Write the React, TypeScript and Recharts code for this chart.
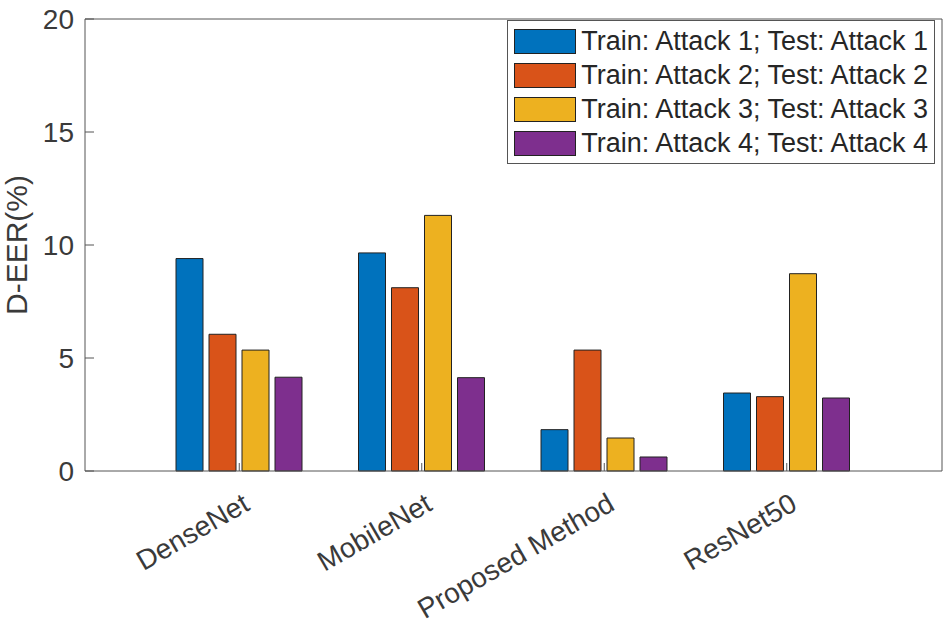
import { BarChart, Bar, XAxis, YAxis, Legend } from 'recharts'

const categories = ['DenseNet', 'MobileNet', 'Proposed Method', 'ResNet50']
const seriesNames = [
  'Train: Attack 1; Test: Attack 1',
  'Train: Attack 2; Test: Attack 2',
  'Train: Attack 3; Test: Attack 3',
  'Train: Attack 4; Test: Attack 4',
]
const attack1 = [9.4, 9.65, 1.83, 3.45]
const attack2 = [6.05, 8.11, 5.35, 3.29]
const attack3 = [5.35, 11.31, 1.46, 8.73]
const attack4 = [4.15, 4.13, 0.62, 3.23]
const yTicks = [0, 5, 10, 15, 20]

const COLORS = ['#0072BD', '#D95319', '#EDB120', '#7E2F8E']
const FONT = '"Liberation Sans", Arial, Helvetica, sans-serif'
const TEXT = '#3a3a3a'
const AXIS = '#555555'

const data = categories.map((name, i) => ({
  name,
  a1: attack1[i],
  a2: attack2[i],
  a3: attack3[i],
  a4: attack4[i],
}))
const keys = ['a1', 'a2', 'a3', 'a4']

function RotatedTick(props: any) {
  const { x, y, payload } = props
  return (
    <g transform={`translate(${x + 12},${y})`}>
      <text
        textAnchor="end"
        transform="rotate(-30)"
        fontSize={28}
        fontFamily={FONT}
        fill={TEXT}
      >
        {payload.value}
      </text>
    </g>
  )
}

function YLabel(props: any) {
  const { viewBox } = props
  const x = viewBox.x + 27
  const y = viewBox.y + viewBox.height / 2
  return (
    <text
      x={x}
      y={y}
      transform={`rotate(-90 ${x} ${y})`}
      textAnchor="middle"
      fontSize={30}
      fontFamily={FONT}
      fill={TEXT}
    >
      D-EER(%)
    </text>
  )
}

function LegendBox(props: any) {
  const { payload } = props
  return (
    <div
      style={{
        border: '1px solid #555',
        background: '#fff',
        padding: '3px 6px',
        fontFamily: FONT,
        fontSize: 27,
        color: '#262626',
        boxSizing: 'border-box',
      }}
    >
      {payload.map((entry: any, i: number) => (
        <div key={i} style={{ display: 'flex', alignItems: 'center', height: 34 }}>
          <span
            style={{
              display: 'inline-block',
              width: 63,
              height: 25,
              background: entry.color,
              border: '1px solid #222',
              boxSizing: 'border-box',
              marginRight: 5,
            }}
          />
          <span style={{ whiteSpace: 'nowrap', lineHeight: '34px' }}>{entry.value}</span>
        </div>
      ))}
    </div>
  )
}

export default function App() {
  return (
    <div style={{ position: 'absolute', left: 0, top: 0, background: '#fff' }}>
      <BarChart
        width={952}
        height={627}
        data={data}
        margin={{ top: 18, right: 9, bottom: 0, left: 0 }}
        barSize={27}
        barGap={6}
      >
        <XAxis
          dataKey="name"
          height={156}
          padding={{ left: 63, right: 64 }}
          stroke={AXIS}
          tickSize={-8}
          tickMargin={46}
          interval={0}
          tick={<RotatedTick />}
        />
        <XAxis
          xAxisId="top"
          orientation="top"
          dataKey="name"
          height={1}
          padding={{ left: 63, right: 64 }}
          stroke={AXIS}
          tickSize={-8}
          tick={false}
          interval={0}
        />
        <YAxis
          width={85}
          domain={[0, 20]}
          ticks={yTicks}
          stroke={AXIS}
          tickSize={-9}
          tickMargin={20}
          tick={{ fontSize: 28, fontFamily: FONT, fill: TEXT }}
          label={<YLabel />}
        />
        <YAxis
          yAxisId="right"
          orientation="right"
          width={1}
          domain={[0, 20]}
          ticks={yTicks}
          stroke={AXIS}
          tickSize={-9}
          tick={false}
        />
        <Legend
          layout="horizontal"
          align="center"
          verticalAlign="middle"
          wrapperStyle={{ left: 507, top: 20, width: 428 }}
          content={<LegendBox />}
        />
        {keys.map((k, i) => (
          <Bar
            key={k}
            dataKey={k}
            name={seriesNames[i]}
            fill={COLORS[i]}
            stroke="#222"
            strokeWidth={1}
            isAnimationActive={false}
          />
        ))}
      </BarChart>
    </div>
  )
}
